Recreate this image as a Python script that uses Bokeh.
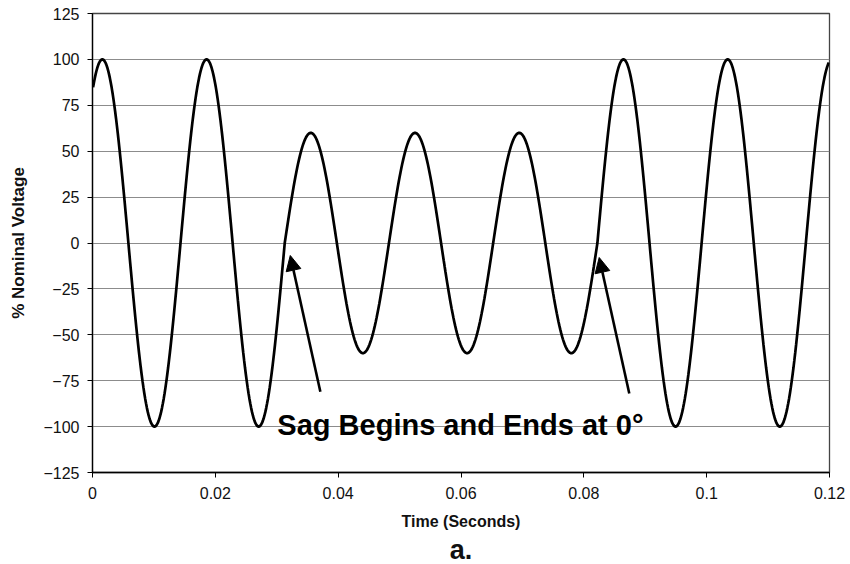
import numpy as np
from bokeh.plotting import figure
from bokeh.models import FixedTicker, Arrow, NormalHead, Label, Title
from bokeh.embed import file_html
from bokeh.resources import INLINE

# ---- data ----
first_zero_crossing = -0.00264      # s, rising zero crossing before the first peak
half_cycle_duration = 0.008485      # s (approx. 59 Hz as drawn)
half_cycle_peaks = [100, -100, 100, -100, 60, -60, 60, -60, 60, -60,
                    100, -100, 100, -100, 100]   # % nominal, per half cycle
t_min, t_max = 0.0, 0.12

y_ticks = [-125, -100, -75, -50, -25, 0, 25, 50, 75, 100, 125]
x_ticks = [0, 0.02, 0.04, 0.06, 0.08, 0.1, 0.12]
x_tick_labels = ["0", "0.02", "0.04", "0.06", "0.08", "0.1", "0.12"]

annotation_text = "Sag Begins and Ends at 0\u00b0"
annotation_t, annotation_v = 0.0301, -99.4
arrow_tail_t = [0.0371, 0.0874]
arrow_tail_v = [-81.0, -82.0]
arrow_tip_t = [0.0322, 0.0825]
arrow_tip_v = [-6.8, -7.9]

# ---- build the waveform half-cycle by half-cycle ----
ts, vs = [], []
for i, pk in enumerate(half_cycle_peaks):
    a = first_zero_crossing + i * half_cycle_duration
    s = np.linspace(0, 1, 60)
    ts.append(a + s * half_cycle_duration)
    vs.append(pk * np.sin(np.pi * s))
t = np.concatenate(ts)
v = np.concatenate(vs)
mask = (t >= t_min) & (t <= t_max)
t, v = t[mask], v[mask]

FONT = "Liberation Sans"

p = figure(width=850, height=564, x_range=(t_min, t_max), y_range=(-125, 125),
           output_backend="svg", toolbar_location=None,
           min_border_left=92, min_border_right=21, min_border_top=13, min_border_bottom=92)

p.line(t, v, line_color="black", line_width=2.7)

p.xgrid.visible = False
p.ygrid.ticker = FixedTicker(ticks=y_ticks)
p.ygrid.grid_line_color = "#8c8c8c"
p.ygrid.grid_line_width = 1

p.outline_line_color = "#444444"
p.outline_line_width = 1.3

p.yaxis.ticker = FixedTicker(ticks=y_ticks)
p.xaxis.ticker = FixedTicker(ticks=x_ticks)
p.xaxis.major_label_overrides = {x: l for x, l in zip(x_ticks, x_tick_labels)}
for ax in (p.xaxis, p.yaxis):
    ax.axis_line_color = "black"
    ax.axis_line_width = 1.3
    ax.major_tick_line_color = "black"
    ax.major_tick_in = 0
    ax.major_tick_out = 5
    ax.minor_tick_line_color = None
    ax.major_label_text_font = FONT
    ax.major_label_text_font_size = "16px"
    ax.major_label_text_color = "#111111"
    ax.axis_label_text_font = FONT
    ax.axis_label_text_font_style = "bold"
    ax.axis_label_text_color = "#111111"
p.yaxis.axis_label_text_font_size = "17px"
p.xaxis.axis_label_text_font_size = "16px"
p.yaxis.major_label_standoff = 8
p.xaxis.major_label_standoff = 9
p.yaxis.axis_label = "% Nominal Voltage"
p.xaxis.axis_label = "Time (Seconds)"
p.yaxis.axis_label_standoff = 12
p.xaxis.axis_label_standoff = 11

for tt, tv, ht, hv in zip(arrow_tail_t, arrow_tail_v, arrow_tip_t, arrow_tip_v):
    p.add_layout(Arrow(x_start=tt, y_start=tv, x_end=ht, y_end=hv,
                       line_color="black", line_width=2.6,
                       end=NormalHead(size=15, fill_color="black", line_color="black", line_width=1)))

p.add_layout(Label(x=annotation_t, y=annotation_v, text=annotation_text, text_font=FONT,
                   text_font_style="bold", text_font_size="29px", text_color="black",
                   text_baseline="alphabetic", text_align="left"))

p.add_layout(Title(text="a.", align="center", text_font=FONT, text_font_style="bold",
                   text_font_size="27px", text_color="#111111", standoff=0), "below")

open("out.html", "w").write(file_html(p, INLINE))
